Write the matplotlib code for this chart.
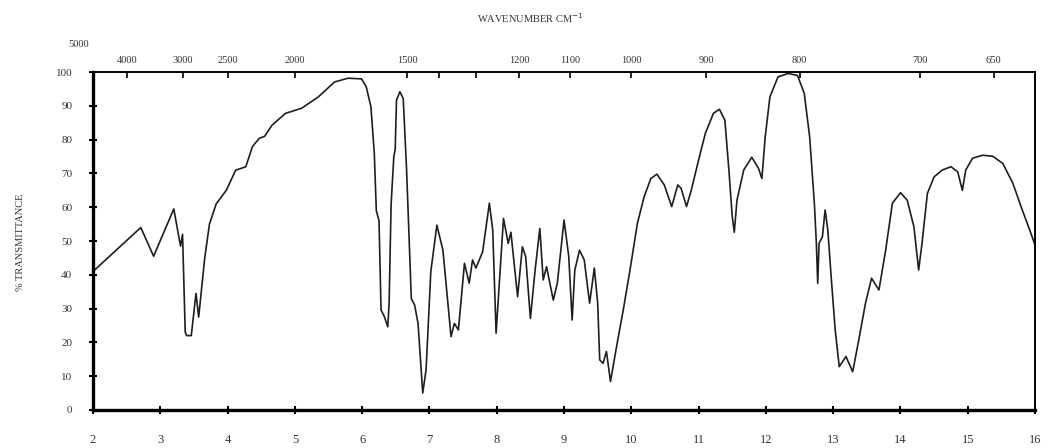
import numpy as np
import matplotlib
matplotlib.use("Agg")
from matplotlib import pyplot as plt

# IR spectrum: wavelength (micron) vs % transmittance
wavelength = [2.00, 2.71, 2.90, 3.20, 3.30, 3.33, 3.37, 3.39, 3.46, 3.53, 3.57, 3.66,
              3.73, 3.83, 3.98, 4.12, 4.20, 4.27, 4.37, 4.47, 4.55, 4.66, 4.86, 5.10,
              5.35, 5.59, 5.79, 5.99, 6.06, 6.13, 6.18, 6.21, 6.25, 6.28, 6.33, 6.38,
              6.40, 6.43, 6.47, 6.49, 6.51, 6.56, 6.61, 6.66, 6.73, 6.78, 6.83, 6.90,
              6.95, 7.02, 7.11, 7.20, 7.32, 7.37, 7.43, 7.52, 7.59, 7.64, 7.69, 7.79,
              7.89, 7.94, 7.99, 8.05, 8.10, 8.17, 8.21, 8.31, 8.38, 8.43, 8.50, 8.57,
              8.64, 8.69, 8.74, 8.84, 8.90, 9.00, 9.07, 9.12, 9.16, 9.23, 9.30, 9.38,
              9.45, 9.50, 9.53, 9.58, 9.63, 9.69, 9.78, 9.88, 9.98, 10.09, 10.19, 10.29,
              10.38, 10.49, 10.60, 10.69, 10.74, 10.82, 10.89, 11.00, 11.10, 11.22, 11.31,
              11.39, 11.45, 11.50, 11.53, 11.57, 11.67, 11.79, 11.89, 11.94, 11.99, 12.06,
              12.18, 12.33, 12.47, 12.57, 12.65, 12.72, 12.75, 12.77, 12.79, 12.84, 12.88,
              12.92, 12.97, 13.03, 13.09, 13.19, 13.29, 13.38, 13.48, 13.57, 13.68, 13.78,
              13.88, 14.00, 14.10, 14.20, 14.27, 14.32, 14.40, 14.50, 14.62, 14.75, 14.85,
              14.92, 14.97, 15.07, 15.22, 15.37, 15.52, 15.67, 15.81, 15.92, 16.00]
transmittance = [41, 54, 45.5, 59.5, 48.5, 52, 23, 22, 22, 34.5, 27.5, 45,
                 55, 61, 65, 71, 71.5, 72, 78, 80.4, 81, 84.3, 87.8, 89.3,
                 92.7, 97.1, 98.2, 98, 95.7, 89.7, 76, 59, 56, 29.6, 27.6, 24.6,
                 31.5, 61, 75, 77, 91.7, 94.2, 92.2, 71, 33, 31, 25.6, 5,
                 12, 41, 54.7, 47.3, 21.7, 25.6, 23.7, 43.4, 37.5, 44.4, 42, 46.8,
                 61.2, 53.3, 22.7, 41.4, 56.7, 49.3, 52.6, 33.5, 48.3, 45.4, 27.1, 41.4,
                 53.7, 38.5, 42.4, 32.5, 37.5, 56.2, 45.4, 26.6, 41.4, 47.3, 44.4, 31.6,
                 42, 31.6, 14.8, 13.8, 17.3, 8.4, 18.7, 29.6, 41.4, 55.2, 63.1, 68.5,
                 69.8, 66.6, 60.2, 66.6, 65.6, 60.2, 65, 74, 81.9, 87.8, 89,
                 85.8, 71, 57.2, 52.6, 62.1, 71, 74.8, 71.5, 68.5, 80.9, 92.7,
                 98.6, 99.6, 99, 93.7, 80.9, 61.2, 49.3, 37.5, 49.3, 51.3, 59.2,
                 53.3, 39.4, 23.7, 12.8, 15.8, 11.3, 20.7, 31.6, 39, 35.5, 47.3,
                 61.2, 64.3, 62.1, 54.2, 41.4, 49.3, 64.1, 69, 71, 72, 70.5,
                 65, 71, 74.5, 75.4, 75.1, 73, 67.1, 59.2, 53.3, 48.8]

micron_ticks = list(range(2, 17))
wn_ticks = [4000, 3000, 2500, 2000, 1500, 1400, 1300, 1200, 1100, 1000, 900, 800, 700, 650]
wn_labels = ["4000", "3000", "2500", "2000", "1500", "", "", "1200", "1100", "1000", "900", "800", "700", "650"]

plt.rcParams['font.family'] = ['Liberation Serif', 'DejaVu Serif']

fig = plt.figure(figsize=(10.49, 4.48), dpi=100)
ax = fig.add_axes([0.0887, 0.085, 0.8980, 0.754])
ax.plot(wavelength, transmittance, color='#1e1e1e', lw=1.2)
ax.set_xlim(2, 16)
ax.set_ylim(0, 100)

ax.set_xticks(micron_ticks)
ax.set_xticklabels([str(v) for v in micron_ticks], fontsize=9, color='#333')
ax.set_yticks(range(0, 101, 10))
ax.set_yticklabels([str(v) for v in range(0, 101, 10)], fontsize=8, color='#333')
ax.tick_params(axis='both', direction='inout', length=6, width=1.5)
ax.tick_params(axis='x', pad=14)
ax.tick_params(axis='y', pad=12)

for s in ['left', 'bottom']:
    ax.spines[s].set_linewidth(2.4)
for s in ['top', 'right']:
    ax.spines[s].set_linewidth(1.4)

top = ax.twiny()
top.set_xlim(2, 16)
top.set_xticks([10000 / w for w in wn_ticks])
top.set_xticklabels(wn_labels, fontsize=7.5, color='#333')
top.tick_params(axis='x', direction='in', length=4, width=1.2, pad=5)
for s in top.spines.values():
    s.set_visible(False)

fig.text(0.075, 0.895, "5000", fontsize=7.5, color='#333', ha='center')
fig.text(0.505, 0.948, "WAVENUMBER CM$^{-1}$", fontsize=7.5, color='#333', ha='center')
fig.text(0.020, 0.46, "% TRANSMITTANCE", fontsize=7.5, color='#333', rotation=90,
         ha='center', va='center')

fig.savefig("out.png", dpi=100)
